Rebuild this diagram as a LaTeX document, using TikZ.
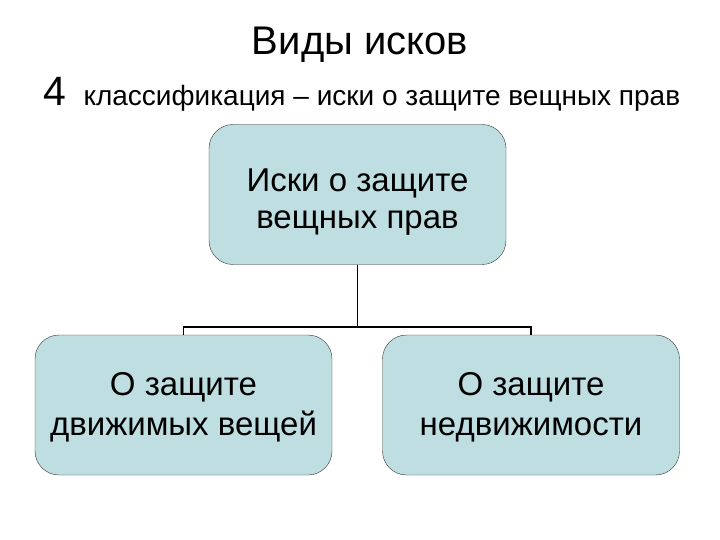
\documentclass[tikz,border=0pt]{standalone}
\usepackage{fontspec}
\setmainfont{Liberation Sans}
\usetikzlibrary{positioning}
\definecolor{boxfill}{RGB}{190,222,226}

\begin{document}
\begin{tikzpicture}[
  x=1pt, y=-1pt,
  box/.style={draw=black!80, fill=boxfill, rounded corners=24pt, align=center,
              minimum width=297pt, minimum height=140pt, font=\fontsize{33}{40}\selectfont},
  link/.style={line width=1.5pt},
]
\useasboundingbox (0,0) rectangle (720,540);
\node (title) at (360,45) {\fontsize{40}{46}\selectfont Виды исков};
\node[anchor=base west] (sub) at (80,106) {\fontsize{28}{32}\selectfont классификация -- иски о защите вещных прав};
\node[anchor=base east, inner sep=3pt, xshift=-10pt] (num) at (sub.base west) {\fontsize{41}{46}\selectfont 4};
\node[box, font=\fontsize{33}{37}\selectfont] (top) at (357.5,194.5) {\rule{0pt}{38pt}Иски о защите\\ вещных прав};
\node[box] (left) at (183.5,405) {\rule{0pt}{28pt}О защите\\ движимых вещей};
\node[box] (right) at (531,405) {\rule{0pt}{28pt}О защите\\ недвижимости};
\coordinate (split) at (357.5,327);
\draw[link] (top.south) -- (split);
\draw[link] (split) -| (left.north);
\draw[link] (split) -| (right.north);
\end{tikzpicture}
\end{document}
